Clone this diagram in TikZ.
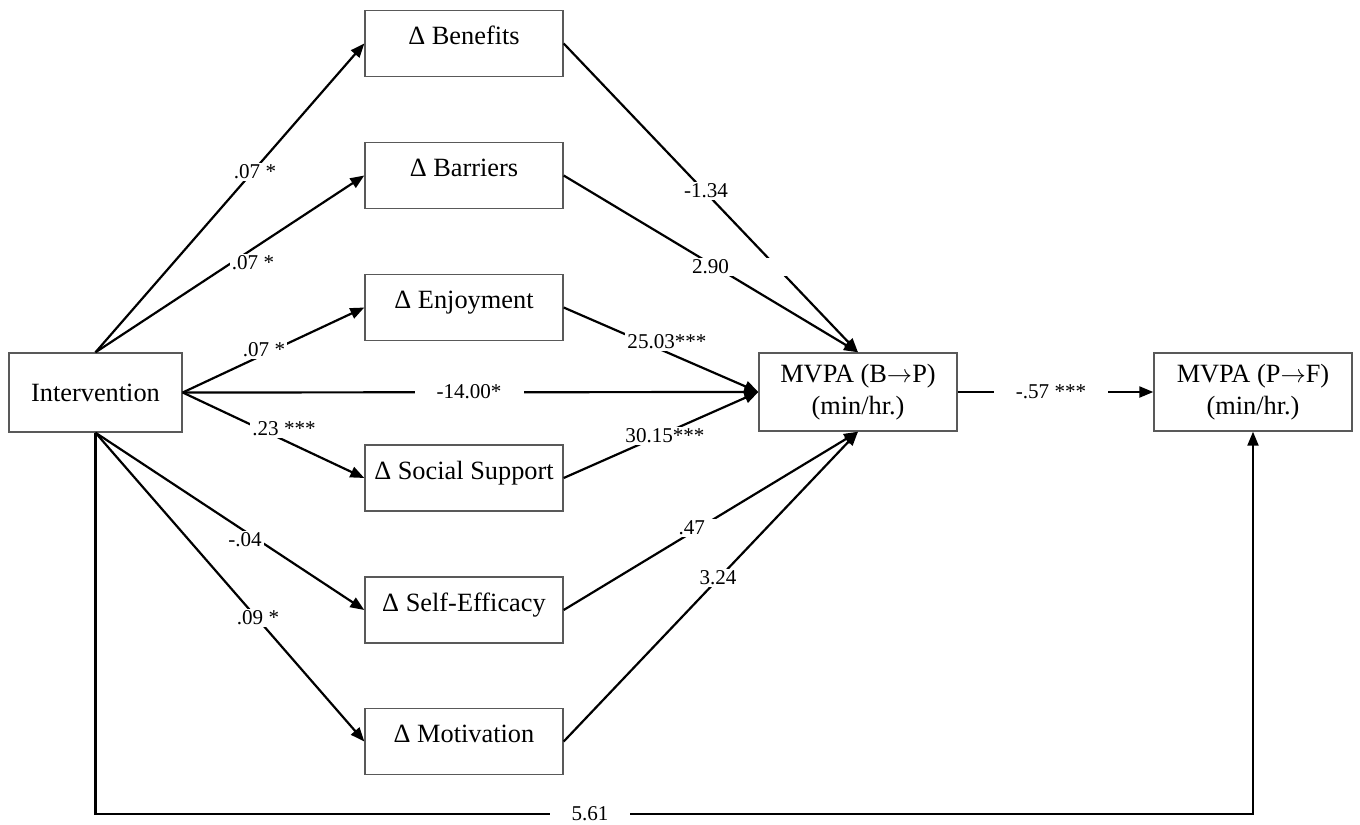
\documentclass[tikz,border=0pt]{standalone}
\usepackage{fontspec}
\setmainfont{Liberation Serif}
\usepackage{tikz}
\usetikzlibrary{arrows.meta, positioning}

\begin{document}
\begin{tikzpicture}[
  x=0.02cm, y=-0.02cm,
  every node/.style={font=\fontsize{15}{18}\selectfont},
  var/.style={rectangle, draw=black!65, line width=0.8pt, fill=white,
              minimum width=3.96cm, minimum height=1.56cm, align=center,
              inner sep=2pt},
  med/.style={var, minimum height=1.32cm, text height=0.2cm, text depth=0.16cm},
  lbl/.style={fill=white, inner xsep=0.04cm, inner ysep=1pt,
              font=\fontsize{12}{14}\selectfont},
  lblwide/.style={lbl, align=left, text width=#1},
  gap/.style={lbl, inner xsep=0.44cm},
  arrow/.style={-{Triangle[length=0.28cm, width=0.22cm]}, line width=1.25pt},
]
\useasboundingbox (0,0) rectangle (1360,825);

% ── Predictor ──
\node[var, minimum width=3.46cm, minimum height=1.58cm] (interv) at (95.5,392.5) {Intervention};

% ── Mediators ──
\node[med] (benef)   at (464,43.5)  {Δ Benefits};
\node[med] (barr)    at (464,175.5) {Δ Barriers};
\node[med] (enjoy)   at (464,307.5) {Δ Enjoyment};
\node[med] (socsup)  at (464,478)   {Δ Social Support};
\node[med] (selfeff) at (464,610)   {Δ Self-Efficacy};
\node[med] (motiv)   at (464,741.5) {Δ Motivation};

% ── Outcomes ──
\node[var] (mvpab) at (858,392)  {MVPA (B$\rightarrow$P)\\(min/hr.)};
\node[var] (mvpaf) at (1253,392) {MVPA (P$\rightarrow$F)\\(min/hr.)};

% ── a paths ──
\foreach \m in {benef, barr}
  \draw[arrow] (interv.north) -- (\m.west);
\foreach \m in {enjoy, socsup}
  \draw[arrow] (interv.east) -- (\m.west);
\foreach \m in {selfeff, motiv}
  \draw[arrow] (interv.south) -- (\m.west);

% ── b paths ──
\foreach \m in {benef, barr}
  \draw[arrow] (\m.east) -- (mvpab.north);
\foreach \m in {enjoy, socsup}
  \draw[arrow] (\m.east) -- (mvpab.west);
\foreach \m in {selfeff, motiv}
  \draw[arrow] (\m.east) -- (mvpab.south);

% ── direct paths ──
\draw[arrow] (interv.east) -- (mvpab.west);
\draw[arrow] (mvpab.east) -- (mvpaf.west);
\coordinate (low) at (0,814);
\draw[arrow] (interv.south) -- (interv.south |- low) -| (mvpaf.south);

% ── coefficients ──
\node[lbl] (la1) at (255,172) {.07 *};
\node[lbl] (la2) at (253,263) {.07 *};
\node[lbl] (la3) at (264,350) {.07 *};
\node[lbl] (la4) at (284,429) {.23 ***};
\node[lbl] (la5) at (245,540) {-.04};
\node[lbl] (la6) at (258,618) {.09 *};
\node[lbl] (lb1) at (706,191) {-1.34};
\node[lblwide=1.92cm] (lb2) at (740,267) {2.90};
\node[lbl] (lb3) at (667,342) {25.03***};
\node[lbl] (lb4) at (665,436) {30.15***};
\node[lblwide=0.9cm] (lb5) at (701,528) {.47};
\node[lbl] (lb6) at (718,578) {3.24};
\node[gap] (lc) at (469,392) {-14.00*};
\node[gap] (ld) at (1051,392) {-.57 ***};
\node[gap] (le) at (590,814) {5.61};

\end{tikzpicture}
\end{document}
